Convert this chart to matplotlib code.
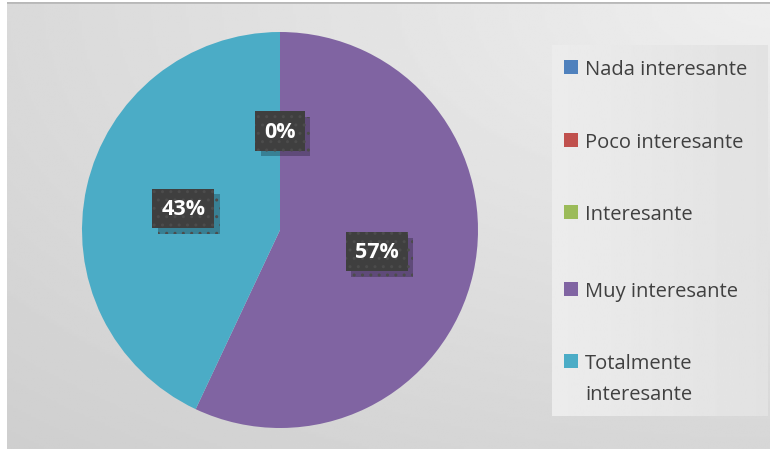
import numpy as np
import matplotlib.pyplot as plt
from matplotlib.patches import Rectangle
import matplotlib.patheffects as pe

# survey answers, share of respondents (%)
categories = ["Nada interesante", "Poco interesante", "Interesante",
              "Muy interesante", "Totalmente\ninteresante"]
shares = [0, 0, 0, 57, 43]
colors = ["#4F81BD", "#C0504D", "#9BBB59", "#8064A2", "#4BACC6"]

W, H = 772, 452
fig = plt.figure(figsize=(W / 100, H / 100), dpi=100)
fig.patch.set_facecolor("white")

# chart area background with a soft gradient (lighter at top right)
bg = fig.add_axes([7 / W, 2 / H, 763 / W, 447 / H])
yy, xx = np.mgrid[0:1:200j, 0:1:300j]
dist = np.sqrt((1 - xx) ** 2 * 0.8 + (1 - yy) ** 2)
shade = 0.935 - 0.125 * dist / dist.max()
bg.imshow(shade, cmap="gray", vmin=0, vmax=1, origin="lower",
          aspect="auto", extent=[0, 1, 0, 1])
bg.axhline(1, color="#b8b8b8", lw=2)
bg.set_axis_off()

# pie
cx, cy, r = 280, 231, 198
ax = fig.add_axes([(cx - r) / W, (H - cy - r) / H, 2 * r / W, 2 * r / H])
wedges, _, autotexts = ax.pie(
    shares, colors=colors, startangle=90, counterclock=False,
    autopct="%1.0f%%", pctdistance=0.5,
    textprops=dict(color="white", fontsize=15.5, fontweight="bold",
                   family="Open Sans"))
ax.set_xlim(-1, 1)
ax.set_ylim(-1, 1)
ax.set_aspect("equal")
ax.set_axis_off()

seen_zero = False
for t, v in zip(autotexts, shares):
    # the zero slices all sit at the top, only one label shows there
    if v == 0:
        if seen_zero:
            t.set_visible(False)
            continue
        seen_zero = True
    t.set_bbox(dict(boxstyle="square,pad=0.42", fc="#3f3f3f", ec="#4c4c4c",
                    lw=0, hatch=".."))
    t.get_bbox_patch().set_path_effects([
        pe.SimplePatchShadow(offset=(4, -4), shadow_rgbFace="black", alpha=0.25),
        pe.Normal()])
    t.set_zorder(3)

# legend panel
lg = fig.add_axes([552 / W, (H - 417) / H, 216 / W, 371 / H])
gx = np.linspace(0, 1, 100)[None, :]
lg.imshow(0.925 - 0.04 * gx, cmap="gray", vmin=0, vmax=1, aspect="auto",
          extent=[0, 1, 0, 1])
lg.set_xlim(0, 1)
lg.set_ylim(0, 1)
lg.set_axis_off()

row_y = [68, 141, 213, 290, 362]
for label, c, y in zip(categories, colors, row_y):
    fig.patches.append(Rectangle((564 / W, (H - y - 7) / H), 14 / W, 14 / H,
                                 transform=fig.transFigure, fc=c, ec="none"))
    # Excel wraps the long entry, keep the marker on the first line
    for i, line in enumerate(label.split("\n")):
        fig.text(585 / W, (H - y - 7 - 31 * i) / H, line, ha="left",
                 va="baseline", fontsize=14.5, color="#404040",
                 family="Open Sans")

fig.savefig("out.png", dpi=100)
